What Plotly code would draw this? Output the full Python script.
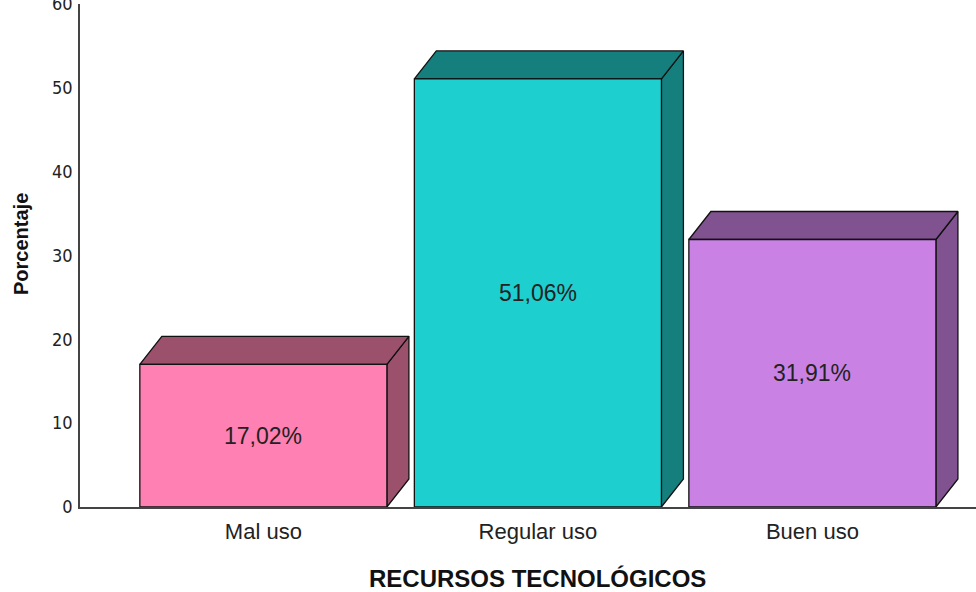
import plotly.graph_objects as go

categories = ["Mal uso", "Regular uso", "Buen uso"]
values = [17.02, 51.06, 31.91]
labels = ["17,02%", "51,06%", "31,91%"]
front_colors = ["#FF80B2", "#1ECFCF", "#C982E4"]
shade_colors = ["#9B516B", "#147F7D", "#80528F"]
y_ticks = [0, 10, 20, 30, 40, 50, 60]

W, H = 976, 592
ML, MR, MT, MB = 80, 0, 4, 85
x_range = [-0.668, 2.596]
y_range = [0, 60]
px_per_x = (W - ML - MR) / (x_range[1] - x_range[0])
px_per_y = (H - MT - MB) / (y_range[1] - y_range[0])
bar_w = 0.9
dx = 22 / px_per_x
dy = 28 / px_per_y

fig = go.Figure()
edge = dict(color="#111111", width=1.3)
for i, (cat, v) in enumerate(zip(categories, values)):
    xl, xr = i - bar_w / 2, i + bar_w / 2
    # side face
    fig.add_trace(go.Scatter(
        x=[xr, xr + dx, xr + dx, xr, xr], y=[0, dy, v + dy, v, 0],
        fill="toself", fillcolor=shade_colors[i], line=edge, mode="lines",
        hoverinfo="skip", showlegend=False))
    # top face
    fig.add_trace(go.Scatter(
        x=[xl, xl + dx, xr + dx, xr, xl], y=[v, v + dy, v + dy, v, v],
        fill="toself", fillcolor=shade_colors[i], line=edge, mode="lines",
        hoverinfo="skip", showlegend=False))
    # front face
    fig.add_trace(go.Scatter(
        x=[xl, xl, xr, xr, xl], y=[0, v, v, 0, 0],
        fill="toself", fillcolor=front_colors[i], line=edge, mode="lines",
        hoverinfo="skip", showlegend=False))
    fig.add_annotation(x=i, y=v / 2, xref="x", yref="y", text=labels[i],
                       showarrow=False, font=dict(size=23, color="#222222",
                                                  family="Liberation Sans, Arial"))

fig.add_annotation(x=1, xref="x", y=-(578 - 507) / (H - MT - MB), yref="paper",
                   text="<b>RECURSOS TECNOLÓGICOS</b>", showarrow=False,
                   yanchor="middle",
                   font=dict(size=24, color="#111111", family="Liberation Sans, Arial"))
fig.add_annotation(x=(21 - ML) / (W - ML - MR), xref="paper",
                   y=(507 - 244) / (H - MT - MB), yref="paper",
                   text="<b>Porcentaje</b>", textangle=-90, showarrow=False,
                   xanchor="center", yanchor="middle",
                   font=dict(size=20, color="#111111", family="Liberation Sans, Arial"))

fig.update_layout(
    width=W, height=H,
    margin=dict(l=ML, r=MR, t=MT, b=MB, autoexpand=False),
    plot_bgcolor="white", paper_bgcolor="white",
    xaxis=dict(range=x_range, tickmode="array", tickvals=list(range(len(categories))),
               ticktext=categories, showgrid=False, zeroline=False, automargin=False,
               showline=True, linecolor="#444444", linewidth=1.5,
               ticks="", ticklabelstandoff=4,
               tickfont=dict(size=22, color="#222222", family="Liberation Sans, Arial")),
    yaxis=dict(range=y_range, tickmode="array", tickvals=y_ticks,
               showgrid=False, zeroline=False, automargin=False,
               showline=True, linecolor="#444444", linewidth=1.5,
               ticks="", ticklabelstandoff=2, ticklabeloverflow="allow",
               tickfont=dict(size=18, color="#222222",
                             family="Liberation Sans Narrow, Arial Narrow, DejaVu Sans Condensed")),
)

fig.write_html("out.html", config={"displayModeBar": False},
               post_script="document.body.style.margin='0';document.body.style.padding='0';")
